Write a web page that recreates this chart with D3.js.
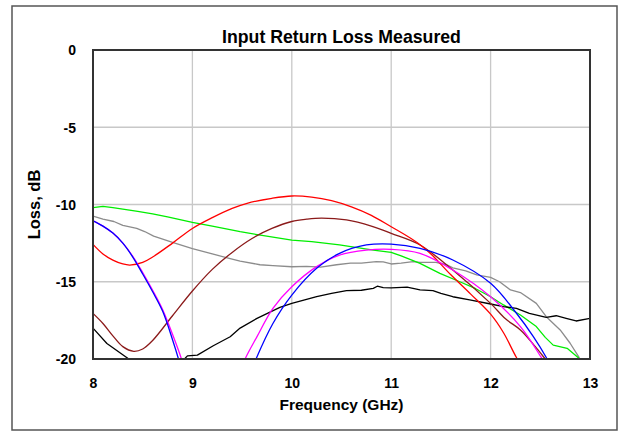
<!DOCTYPE html>
<html><head><meta charset="utf-8">
<script src="https://cdn.jsdelivr.net/npm/d3@7/dist/d3.min.js"></script>
<style>body{margin:0;background:#fff}svg{display:block}text{font-family:"Liberation Sans",Arial,sans-serif;font-weight:bold;fill:#000}</style>
</head><body><svg id="c" width="619" height="432"></svg>
<script>
const title = "Input Return Loss Measured";
const xLabel = "Frequency (GHz)";
const yLabel = "Loss, dB";
const xTicks = [8, 9, 10, 11, 12, 13];
const yTicks = [0, -5, -10, -15, -20];

// Measured traces (frequency GHz, loss dB)
const grayF = [8.0,8.1,8.21,8.3,8.44,8.52,8.61,8.8,9.0,9.2,9.38,9.48,9.68,9.81,10.0,10.15,10.29,10.45,10.59,10.7,10.85,10.92,11.0,11.1,11.22,11.29,11.45,11.56,11.62,11.75,11.86,12.0,12.09,12.2,12.3,12.46,12.56,12.7,12.8,12.89,12.93];
const grayL = [-10.75,-10.95,-11.1,-11.35,-11.55,-11.75,-12.05,-12.45,-12.85,-13.2,-13.5,-13.66,-13.9,-13.96,-14.03,-14.0,-14.05,-13.9,-13.8,-13.8,-13.7,-13.72,-13.85,-13.8,-13.7,-13.74,-13.75,-13.9,-14.1,-14.3,-14.56,-14.72,-15.0,-15.53,-15.7,-16.4,-17.26,-18.12,-18.98,-19.9,-20.4];

const greenF = [8.0,8.1,8.2,8.3,8.45,8.6,8.75,9.0,9.2,9.48,9.7,10.0,10.2,10.48,10.82,11.0,11.1,11.29,11.49,11.69,11.85,12.0,12.13,12.3,12.46,12.55,12.63,12.77,12.88,12.92];
const greenL = [-10.2,-10.12,-10.2,-10.3,-10.45,-10.6,-10.8,-11.15,-11.4,-11.76,-12.0,-12.3,-12.4,-12.62,-12.95,-13.1,-13.33,-13.81,-14.46,-15.0,-15.45,-15.97,-16.5,-17.15,-17.9,-18.6,-19.1,-19.31,-19.9,-20.3];

const blackF = [8.0,8.14,8.36,8.45,8.85,8.92,8.95,9.05,9.21,9.38,9.48,9.65,9.88,10.0,10.25,10.4,10.55,10.7,10.82,10.86,10.92,11.0,11.16,11.29,11.42,11.5,11.62,11.79,12.0,12.13,12.26,12.39,12.56,12.66,12.76,12.86,13.0];
const blackL = [-18.0,-19.0,-20.0,-20.5,-20.6,-20.0,-19.8,-19.75,-19.14,-18.56,-18.0,-17.37,-16.66,-16.4,-15.97,-15.75,-15.58,-15.55,-15.43,-15.29,-15.38,-15.4,-15.35,-15.53,-15.57,-15.75,-15.97,-16.18,-16.44,-16.61,-16.72,-17.04,-17.3,-17.2,-17.37,-17.54,-17.37];

// Smooth (simulated) traces
const brownF = [8.0,8.1,8.2,8.3,8.41,8.5,8.6,8.8,9.0,9.2,9.4,9.6,9.8,10.0,10.15,10.3,10.55,10.8,11.0,11.29,11.62,12.0,12.15,12.3,12.45,12.55,12.6];
const brownL = [-17.05,-17.7,-18.5,-19.2,-19.5,-19.35,-18.8,-17.2,-15.6,-14.2,-13.1,-12.2,-11.55,-11.1,-10.95,-10.88,-11.0,-11.4,-11.87,-12.62,-14.24,-16.4,-17.4,-18.12,-19.2,-20.0,-20.4];

const redF = [8.0,8.1,8.2,8.3,8.37,8.5,8.6,8.8,9.0,9.2,9.4,9.55,9.8,10.0,10.2,10.4,10.6,10.8,11.0,11.2,11.3,11.4,11.6,11.8,12.0,12.13,12.26,12.35];
const redL = [-12.58,-13.2,-13.6,-13.85,-13.92,-13.75,-13.4,-12.5,-11.55,-10.85,-10.25,-9.92,-9.6,-9.45,-9.52,-9.75,-10.15,-10.7,-11.44,-12.2,-12.65,-13.2,-14.55,-15.8,-17.1,-18.3,-19.9,-20.8];

const magentaF1 = [8.0,8.1,8.2,8.3,8.4,8.5,8.6,8.7,8.8,8.89,8.93];
const magentaL1 = [-11.05,-11.4,-11.85,-12.5,-13.35,-14.4,-15.55,-16.8,-18.4,-20.0,-21.0];
const magentaF2 = [9.47,9.53,9.65,9.81,10.0,10.25,10.48,10.75,11.0,11.29,11.62,12.0,12.3,12.51,12.56];
const magentaL2 = [-21.0,-20.0,-18.55,-16.72,-15.32,-14.02,-13.27,-12.95,-12.9,-13.16,-14.24,-15.97,-17.9,-19.9,-20.4];

const blueF1 = [8.0,8.1,8.2,8.3,8.4,8.5,8.6,8.7,8.8,8.86,8.9];
const blueL1 = [-11.05,-11.4,-11.85,-12.5,-13.4,-14.5,-15.65,-16.9,-18.75,-20.0,-21.0];
const blueF2 = [9.58,9.64,9.81,10.0,10.25,10.48,10.75,11.0,11.29,11.62,12.0,12.26,12.43,12.56,12.6];
const blueL2 = [-21.0,-20.0,-17.7,-15.86,-14.13,-13.16,-12.62,-12.56,-12.84,-13.59,-15.1,-17.04,-18.55,-19.9,-20.4];

const svg = d3.select("#c");
const m = {l: 93, r: 590, t: 50, b: 359};
const x = d3.scaleLinear().domain([8, 13]).range([m.l, m.r]);
const y = d3.scaleLinear().domain([-20, 0]).range([m.b, m.t]);

// outer frame
svg.append("rect").attr("x", 12).attr("y", 6).attr("width", 605).attr("height", 424)
  .attr("fill", "#fff").attr("stroke", "#555").attr("stroke-width", 1.5);

// gridlines
const grid = svg.append("g");
grid.selectAll("line.v").data(xTicks.slice(1, -1)).enter().append("line")
  .attr("x1", d => x(d)).attr("x2", d => x(d)).attr("y1", m.t).attr("y2", m.b)
  .attr("stroke", "#c8c8c8").attr("stroke-width", 1.3);
grid.selectAll("line.h").data(yTicks.slice(1, -1)).enter().append("line")
  .attr("x1", m.l).attr("x2", m.r).attr("y1", d => y(d)).attr("y2", d => y(d))
  .attr("stroke", "#c8c8c8").attr("stroke-width", 1.3);

svg.append("clipPath").attr("id", "clip").append("rect")
  .attr("x", m.l).attr("y", m.t).attr("width", m.r - m.l).attr("height", m.b - m.t);

const plot = svg.append("g").attr("clip-path", "url(#clip)");
const series = [
  {f: grayF, l: grayL, c: "#8c8c8c", curve: d3.curveLinear},
  {f: greenF, l: greenL, c: "#00ee00", curve: d3.curveLinear},
  {f: blackF, l: blackL, c: "#000000", curve: d3.curveLinear},
  {f: brownF, l: brownL, c: "#8b1a1a", curve: d3.curveCatmullRom},
  {f: redF, l: redL, c: "#ff0000", curve: d3.curveCatmullRom},
  {f: magentaF1, l: magentaL1, c: "#ff00ff", curve: d3.curveCatmullRom},
  {f: magentaF2, l: magentaL2, c: "#ff00ff", curve: d3.curveCatmullRom},
  {f: blueF1, l: blueL1, c: "#0000ff", curve: d3.curveCatmullRom},
  {f: blueF2, l: blueL2, c: "#0000ff", curve: d3.curveCatmullRom}
];
series.forEach(s => {
  const pts = s.f.map((f, i) => [f, s.l[i]]);
  const line = d3.line().x(d => x(d[0])).y(d => y(d[1])).curve(s.curve);
  plot.append("path").attr("d", line(pts)).attr("fill", "none")
    .attr("stroke", s.c).attr("stroke-width", 1.3).attr("stroke-linejoin", "round");
});

// plot border
svg.append("rect").attr("x", m.l).attr("y", m.t).attr("width", m.r - m.l).attr("height", m.b - m.t)
  .attr("fill", "none").attr("stroke", "#333").attr("stroke-width", 2);

// axes labels
const fmt = d => String(d);
const xAxis = d3.axisBottom(x).tickValues(xTicks).tickSize(0).tickPadding(0).tickFormat(fmt);
const gx = svg.append("g").attr("transform", `translate(0,${m.b})`).call(xAxis);
gx.select(".domain").remove();
gx.selectAll("text").attr("dy", null).attr("y", 29).style("font-size", "14px")
  .style("font-family", "'Liberation Sans',Arial,sans-serif").style("font-weight", "bold");

const yAxis = d3.axisLeft(y).tickValues(yTicks).tickSize(0).tickPadding(0).tickFormat(fmt);
const gy = svg.append("g").attr("transform", `translate(76,0)`).call(yAxis);
gy.select(".domain").remove();
gy.selectAll("text").attr("dy", "0.35em").attr("x", 0).style("font-size", "14px")
  .style("font-family", "'Liberation Sans',Arial,sans-serif").style("font-weight", "bold");

svg.append("text").attr("x", (m.l + m.r) / 2).attr("y", 42.5).attr("text-anchor", "middle")
  .style("font-size", "17.7px").text(title);
svg.append("text").attr("x", (m.l + m.r) / 2).attr("y", 410).attr("text-anchor", "middle")
  .style("font-size", "15.5px").text(xLabel);
svg.append("text").attr("transform", `translate(40,${(m.t + m.b) / 2}) rotate(-90)`)
  .attr("text-anchor", "middle").style("font-size", "16.5px").text(yLabel);
</script></body></html>
